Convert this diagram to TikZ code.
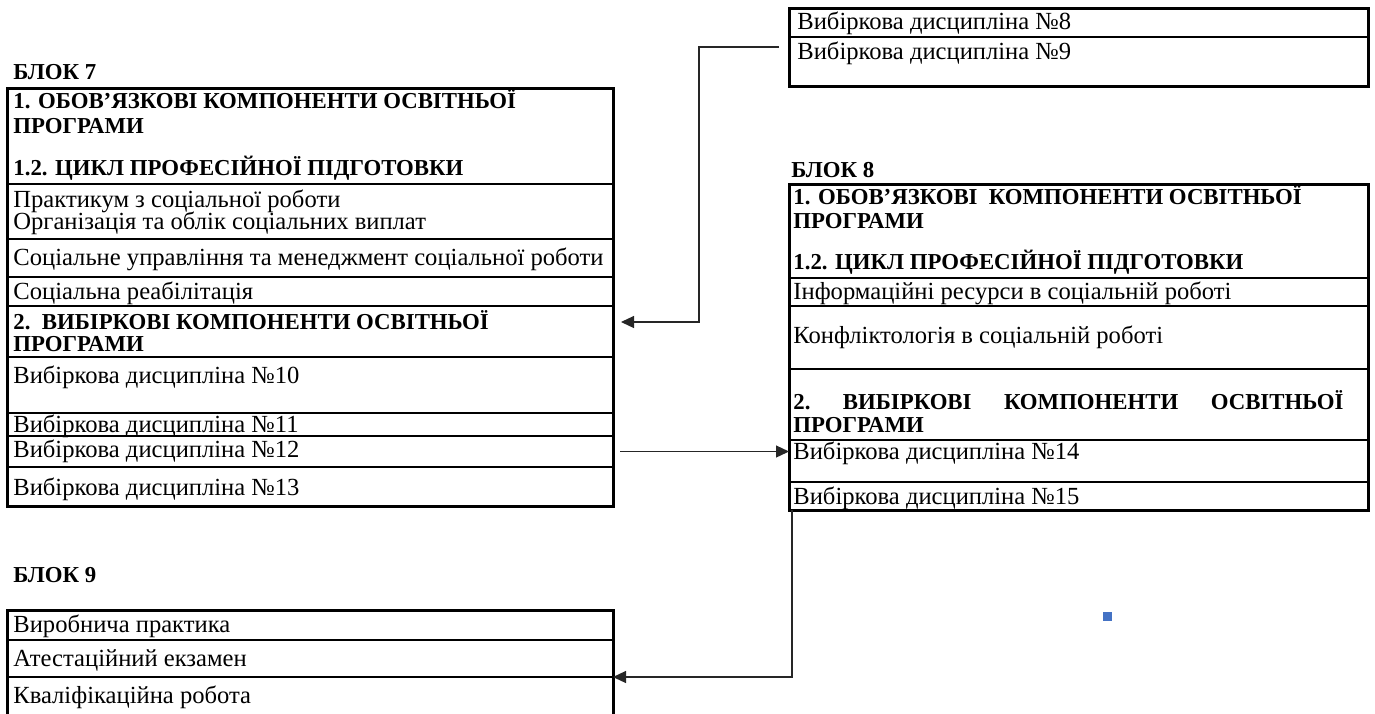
\documentclass[tikz,border=0pt]{standalone}
\usepackage{fontspec}
\setmainfont{Liberation Serif}
\usetikzlibrary{arrows.meta,fit}
\definecolor{sqblue}{HTML}{4472C4}

\begin{document}
\begin{tikzpicture}[x=0.5pt,y=-0.5pt,
    cell/.style={draw, line width=1pt, anchor=north west, inner sep=0pt, outer sep=0pt},
    blockframe/.style={draw, line width=1.5pt, inner sep=0pt, outer sep=0pt},
    txt/.style={anchor=base west, inner sep=0pt, font=\fontsize{12.3}{14}\selectfont},
    head/.style={txt, font=\fontsize{11.4}{14}\selectfont\bfseries},
    conn/.style={line width=0.6pt, draw=black!85},
    tip/.style={-{Triangle[length=6.5pt,width=6pt]}}]
        \useasboundingbox (0,0) rectangle (1375,713);

        % Block 7
        \node[head] (l7) at (13,79) {БЛОК 7};
        \node[cell, minimum width=303pt, minimum height=48pt] (b7r1) at (7,88) {};
        \node[cell, minimum width=303pt, minimum height=27.5pt] (b7r2) at (b7r1.south west) {};
        \node[cell, minimum width=303pt, minimum height=19pt] (b7r3) at (b7r2.south west) {};
        \node[cell, minimum width=303pt, minimum height=14.5pt] (b7r4) at (b7r3.south west) {};
        \node[cell, minimum width=303pt, minimum height=25.5pt] (b7r5) at (b7r4.south west) {};
        \node[cell, minimum width=303pt, minimum height=28pt] (b7r6) at (b7r5.south west) {};
        \node[cell, minimum width=303pt, minimum height=11.5pt] (b7r7) at (b7r6.south west) {};
        \node[cell, minimum width=303pt, minimum height=15.5pt] (b7r8) at (b7r7.south west) {};
        \node[cell, minimum width=303pt, minimum height=19.5pt] (b7r9) at (b7r8.south west) {};
        \node[blockframe, fit=(b7r1)(b7r9)] (b7) {};
        \node[head] (t7a) at (13,108) {1. ОБОВ’ЯЗКОВІ КОМПОНЕНТИ ОСВІТНЬОЇ};
        \node[head] (t7b) at (13,133) {ПРОГРАМИ};
        \node[head] (t7c) at (13,175) {1.2. ЦИКЛ ПРОФЕСІЙНОЇ ПІДГОТОВКИ};
        \node[txt] (t7d) at (13,207) {Практикум з соціальної роботи};
        \node[txt] (t7e) at (13,229) {Організація та облік соціальних виплат};
        \node[txt] (t7f) at (13,265) {Соціальне управління та менеджмент соціальної роботи};
        \node[txt] (t7g) at (13,299) {Соціальна реабілітація};
        \node[head] (t7h) at (13,329) {2.\ \ ВИБІРКОВІ КОМПОНЕНТИ ОСВІТНЬОЇ};
        \node[head] (t7i) at (13,351) {ПРОГРАМИ};
        \node[txt] (t7j) at (13,383) {Вибіркова дисципліна №10};
        \node[txt] (t7k) at (13,432) {Вибіркова дисципліна №11};
        \node[txt] (t7l) at (13,457) {Вибіркова дисципліна №12};
        \node[txt] (t7m) at (13,495) {Вибіркова дисципліна №13};

        % Top box
        \node[cell, minimum width=289.5pt, minimum height=14.5pt] (tbr1) at (789,8) {};
        \node[cell, minimum width=289.5pt, minimum height=24.5pt] (tbr2) at (tbr1.south west) {};
        \node[blockframe, fit=(tbr1)(tbr2)] (tb) {};
        \node[txt] (tba) at (797,29) {Вибіркова дисципліна №8};
        \node[txt] (tbb) at (797,59) {Вибіркова дисципліна №9};

        % Block 8
        \node[head] (l8) at (791,177) {БЛОК 8};
        \node[cell, minimum width=289.5pt, minimum height=47pt] (b8r1) at (789,184) {};
        \node[cell, minimum width=289.5pt, minimum height=14pt] (b8r2) at (b8r1.south west) {};
        \node[cell, minimum width=289.5pt, minimum height=31.5pt] (b8r3) at (b8r2.south west) {};
        \node[cell, minimum width=289.5pt, minimum height=35.5pt] (b8r4) at (b8r3.south west) {};
        \node[cell, minimum width=289.5pt, minimum height=21pt] (b8r5) at (b8r4.south west) {};
        \node[cell, minimum width=289.5pt, minimum height=14pt] (b8r6) at (b8r5.south west) {};
        \node[blockframe, fit=(b8r1)(b8r6)] (b8) {};
        \node[head] (t8a) at (793,204) {1. ОБОВ’ЯЗКОВІ\ \ КОМПОНЕНТИ ОСВІТНЬОЇ};
        \node[head] (t8b) at (793,228) {ПРОГРАМИ};
        \node[head] (t8c) at (793,269) {1.2. ЦИКЛ ПРОФЕСІЙНОЇ ПІДГОТОВКИ};
        \node[txt] (t8d) at (793,299) {Інформаційні ресурси в соціальній роботі};
        \node[txt] (t8e) at (793,343) {Конфліктологія в соціальній роботі};
        \node[head] (t8f) at (793,409) {\hbox to 275pt{2.\hfill ВИБІРКОВІ\hfill КОМПОНЕНТИ\hfill ОСВІТНЬОЇ}};
        \node[head] (t8g) at (793,432) {ПРОГРАМИ};
        \node[txt] (t8h) at (793,459) {Вибіркова дисципліна №14};
        \node[txt] (t8i) at (793,504) {Вибіркова дисципліна №15};

        % Block 9
        \node[head] (l9) at (13,582) {БЛОК 9};
        \node[cell, minimum width=303pt, minimum height=15pt] (b9r1) at (7,610) {};
        \node[cell, minimum width=303pt, minimum height=18.5pt] (b9r2) at (b9r1.south west) {};
        \node[cell, minimum width=303pt, minimum height=19pt] (b9r3) at (b9r2.south west) {};
        \node[blockframe, fit=(b9r1)(b9r3)] (b9) {};
        \node[txt] (t9a) at (13,632) {Виробнича практика};
        \node[txt] (t9b) at (13,666) {Атестаційний екзамен};
        \node[txt] (t9c) at (13,703) {Кваліфікаційна робота};

        % Connectors
        \coordinate (s1) at (779,47);
        \coordinate (k1) at (699,322);
        \coordinate (k3) at (792,677);
        \draw[conn, tip, shorten >=4pt] (s1) -| (k1) -- (k1 -| b7.east);
        \draw[conn, tip, shorten <=3.5pt] (b7r8.east) -- (b7r8.east -| b8.west);
        \draw[conn, tip] (b8.south -| k3) -- (k3) -- (k3 -| b9.east);

        \fill[sqblue] (1103,612) rectangle (1112,621);
\end{tikzpicture}
\end{document}
